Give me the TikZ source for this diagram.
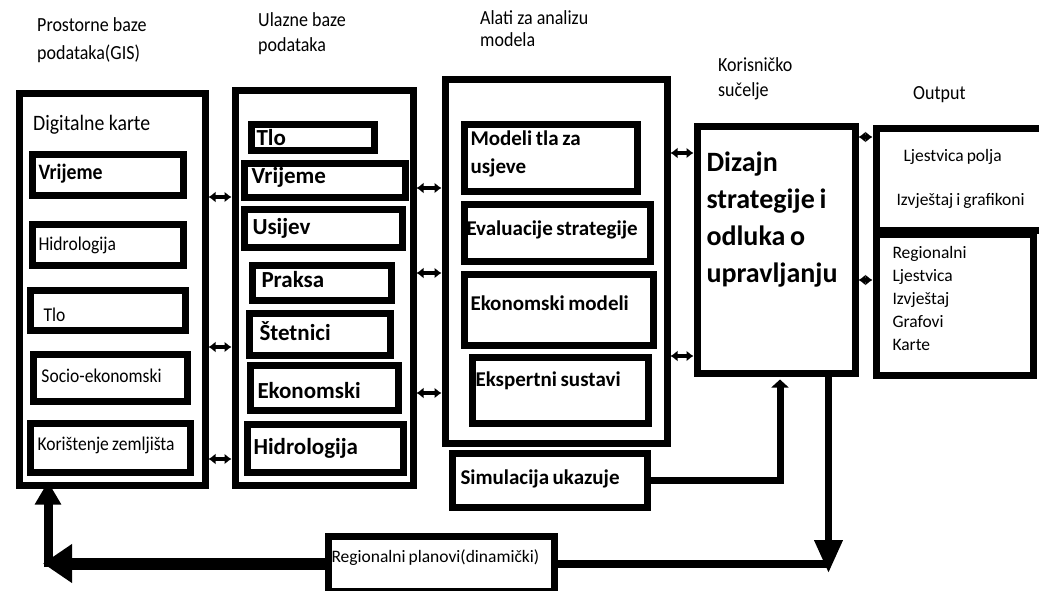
\documentclass[tikz,border=0pt]{standalone}
\usepackage{fontspec}
\setmainfont{Carlito}
\newfontfamily\condfont{Carlito}[FakeStretch=0.9]
\usetikzlibrary{arrows.meta}

\begin{document}
\begin{tikzpicture}[x=1pt,y=-1pt,
	frame/.style={draw,line width=7pt,anchor=north west,inner sep=0pt},
	box/.style={draw,line width=7pt,anchor=north west,inner ysep=0pt,align=left,
		execute at begin node={\spaceskip=0.17em\relax}},
	hd/.style={anchor=base west,align=left,inner sep=0pt,font=\condfont\fontsize{20}{25}\selectfont},
	sm/.style={font=\fontsize{17.5}{23}\selectfont},
	cond/.style={font=\condfont\fontsize{19.5}{23}\selectfont},
	big/.style={font=\fontsize{23}{28}\selectfont\bfseries},
	mid/.style={font=\fontsize{21}{28}\selectfont\bfseries},
	link/.style={line width=3.5pt,{Latex[length=7pt,width=11pt]}-{Latex[length=7pt,width=11pt]}},
	flow/.style={line width=7pt}]
	\useasboundingbox (0,0) rectangle (1039,591);
	
	% column headers (base = last line)
	\node[hd] (hgis) at (37,60) {Prostorne baze\\[3pt]podataka(GIS)};
	\node[hd] (hulaz) at (258,52) {Ulazne baze\\podataka};
	\node[hd] (halat) at (480,47) {Alati za analizu\\[-3pt]modela};
	\node[hd] (hkor) at (718,97) {Korisničko\\sučelje};
	\node[hd] (hout) at (913,100) {Output};
	
	% outer frames
	\node[frame,minimum width=186pt,minimum height=391pt] (gis) at (15.5,90.5) {};
	\node[frame,minimum width=178pt,minimum height=394pt] (ulaz) at (231.5,87.5) {};
	\node[frame,minimum width=222pt,minimum height=363pt] (alat) at (441.5,76.5) {};
	
	% prostorne baze
	\node[anchor=base west,inner sep=0pt,font=\condfont\fontsize{22}{24}\selectfont] (digk) at (33,131) {Digitalne karte};
	\node[box,font=\condfont\fontsize{22}{24}\selectfont\bfseries,text width=138pt,inner xsep=6.5pt,text height=24.5pt,text depth=15.5pt] (gvr) at (28.5,151.5) {Vrijeme};
	\node[box,cond,text width=138pt,inner xsep=6.5pt,text height=26.5pt,text depth=14.5pt] (ghi) at (28.5,220.5) {Hidrologija};
	\node[box,cond,text width=128pt,inner xsep=13.5pt,text height=31.5pt,text depth=8.5pt] (gtl) at (26.5,286.5) {Tlo};
	\node[box,cond,text width=137pt,inner xsep=8.5pt,text height=28.5pt,text depth=18.5pt] (gse) at (29.5,350.5) {Socio-ekonomski};
	\node[box,cond,text width=145pt,inner xsep=7.5pt,text height=27.5pt,text depth=21.5pt] (gkz) at (26.5,419.5) {Korištenje zemljišta};
	
	% ulazne baze
	\node[box,big,text width=112pt,inner xsep=5.5pt,text height=20.5pt,text depth=5.5pt] (utl) at (247.5,121.5) {Tlo};
	\node[box,big,text width=146pt,inner xsep=7.5pt,text height=19.5pt,text depth=13.5pt] (uvr) at (240.5,160.5) {Vrijeme};
	\node[box,big,text width=141pt,inner xsep=8.5pt,text height=25.5pt,text depth=12.5pt] (uus) at (240.5,205.5) {Usijev};
	\node[box,big,text width=120pt,inner xsep=9.5pt,text height=22.5pt,text depth=12.5pt] (upr) at (248.5,261.5) {Praksa};
	\node[box,big,text width=120pt,inner xsep=10.5pt,text height=27.5pt,text depth=14.5pt] (ust) at (245.5,309.5) {Štetnici};
	\node[box,big,text width=133pt,inner xsep=7.5pt,text height=33.5pt,text depth=11.5pt] (uek) at (246.5,361.5) {Ekonomski};
	\node[box,big,text width=143pt,inner xsep=6.5pt,text height=30.5pt,text depth=17.5pt] (uhi) at (243.5,420.5) {Hidrologija};
	
	% alati
	\node[box,mid,text width=160pt,inner xsep=6.5pt,text height=20.5pt,text depth=45.5pt] (amo) at (460.5,121.5) {Modeli tla za\\usjeve};
	\node[box,mid,text width=181pt,inner xsep=2.5pt,text height=31.5pt,text depth=25.5pt] (aev) at (460.5,200.5) {Evaluacije strategije};
	\node[box,mid,text width=176pt,inner xsep=6.5pt,text height=36.5pt,text depth=34.5pt] (aek) at (460.5,270.5) {Ekonomski modeli};
	\node[box,mid,text width=169pt,inner xsep=3.5pt,text height=29.5pt,text depth=36.5pt] (aes) at (468.5,353.5) {Ekspertni sustavi};
	\node[box,mid,text width=178pt,inner xsep=8.5pt,text height=31.5pt,text depth=22.5pt] (sim) at (448.5,449.5) {Simulacija ukazuje};
	
	% sucelje i output
	\node[box,font=\fontsize{28}{37}\selectfont\bfseries,text width=139pt,inner xsep=9.5pt,text height=44.5pt,text depth=201.5pt] (diz) at (693.5,123.5) {Dizajn\\strategije i\\odluka o\\upravljanju};
	\node[box,font=\fontsize{17.5}{44}\selectfont,text width=143pt,inner xsep=20.5pt,text height=32.5pt,text depth=68.5pt] (outa) at (872.5,125.5) {\hspace*{7pt}Ljestvica polja\\Izvještaj i grafikoni};
	\node[box,sm,text width=124pt,inner xsep=16.5pt,text height=24.5pt,text depth=116.5pt] (outb) at (872.5,230.5) {Regionalni\\Ljestvica\\Izvještaj\\Grafovi\\Karte};
	
	\node[box,sm,text width=219pt,inner xsep=3.5pt,text height=26.5pt,text depth=28.5pt] (reg) at (324.5,532.5) {Regionalni planovi(dinamički)};
	
	% links between the columns
	\draw[link] (gis.east |- 0,197) -- (ulaz.west |- 0,197);
	\draw[link] (gis.east |- 0,347) -- (ulaz.west |- 0,347);
	\draw[link] (gis.east |- 0,459) -- (ulaz.west |- 0,459);
	\draw[link] (ulaz.east |- 0,188) -- (alat.west |- 0,188);
	\draw[link] (ulaz.east |- 0,273) -- (alat.west |- 0,273);
	\draw[link] (ulaz.east |- 0,393) -- (alat.west |- 0,393);
	\draw[link] (alat.east |- 0,153) -- (diz.west |- 0,153);
	\draw[link] (alat.east |- 0,356) -- (diz.west |- 0,356);
	\draw[link] (diz.east |- 0,137) -- (outa.west |- 0,137);
	\draw[link] (diz.east |- 0,280) -- (outb.west |- 0,280);
	
	% feedback loop
	\coordinate (dtip) at (828.5,573);
	\coordinate (ltip) at (43,561);
	\coordinate (lbend) at (48,567);
	\draw[flow,-{Triangle[length=8pt,width=17pt]},shorten >=3pt] (sim.east) -| ([xshift=4pt]diz.south);
	\draw[flow,-{Triangle[length=33pt,width=27pt]}] (diz.south -| dtip) -- (dtip);
	\draw[line width=8pt] (reg.east) -- (reg.east -| dtip);
	\draw[line width=12pt,-{Triangle[length=29pt,width=37pt]}] (reg.west) -- (reg.west -| ltip);
	\draw[line width=9pt,-{Triangle[length=23pt,width=25pt]},shorten >=-7pt] (lbend) -- (gis.south -| lbend);
\end{tikzpicture}
\end{document}
